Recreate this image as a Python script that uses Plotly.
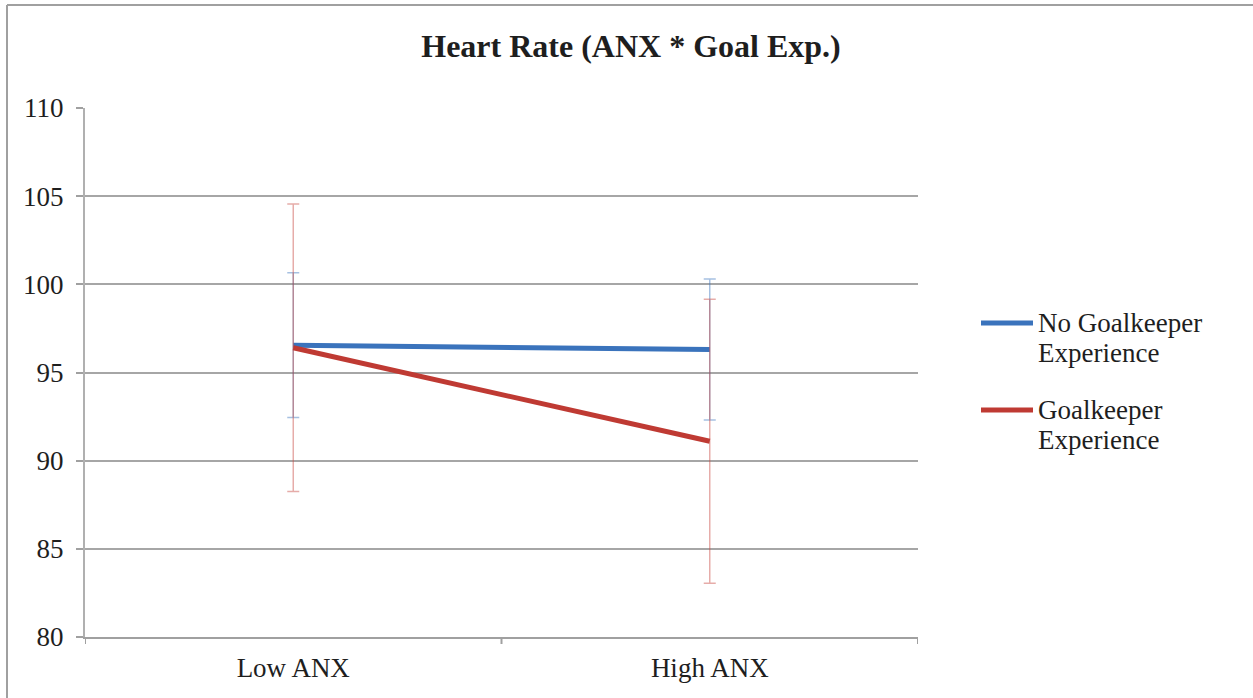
import plotly.graph_objects as go

# Group means and error margins
categories = ["Low ANX", "High ANX"]
no_gk_mean = [96.55, 96.3]
no_gk_err = [4.1, 4.0]
gk_mean = [96.4, 91.1]
gk_err = [8.15, 8.05]

series_labels = [["No Goalkeeper", "Experience"], ["Goalkeeper", "Experience"]]
y_ticks = [80, 85, 90, 95, 100, 105, 110]

BLUE = "#3A73BC"
RED = "#BF3A33"
FONT = "Liberation Serif, Times New Roman, serif"
TEXT = "#1E1E1E"

PLOT_L, PLOT_R, PLOT_T, PLOT_B = 85, 918, 108, 637
PW, PH = PLOT_R - PLOT_L, PLOT_B - PLOT_T


def px_x(x):
    return (x - PLOT_L) / PW


def px_y(y):
    return (PLOT_B - y) / PH


fig = go.Figure()

fig.add_trace(go.Scatter(
    x=[0, 1], y=no_gk_mean, mode="lines",
    line=dict(color=BLUE, width=5),
    error_y=dict(type="data", array=no_gk_err, visible=True,
                 color="rgba(58,115,188,0.45)", thickness=1.5, width=6),
    showlegend=False,
))
fig.add_trace(go.Scatter(
    x=[0, 1], y=gk_mean, mode="lines",
    line=dict(color=RED, width=5),
    error_y=dict(type="data", array=gk_err, visible=True,
                 color="rgba(200,70,65,0.45)", thickness=1.5, width=6),
    showlegend=False,
))

# Hand-built legend to the right of the plot
legend_y = [323, 410]
shapes = []
annotations = []
for lines, color, ly in zip(series_labels, [BLUE, RED], legend_y):
    shapes.append(dict(type="line", xref="paper", yref="paper",
                       x0=px_x(981), x1=px_x(1033),
                       y0=px_y(ly), y1=px_y(ly),
                       line=dict(color=color, width=5)))
    for i, txt in enumerate(lines):
        annotations.append(dict(text=txt, xref="paper", yref="paper",
                                x=px_x(1036), y=px_y(ly + 30 * i),
                                xanchor="left", yanchor="middle", align="left",
                                showarrow=False,
                                font=dict(family=FONT, size=27, color=TEXT)))

# Outer chart frame (left and top edges)
shapes.append(dict(type="line", xref="paper", yref="paper",
                   x0=px_x(7), x1=px_x(7), y0=px_y(720), y1=px_y(5),
                   line=dict(color="#A0A0A0", width=2)))
shapes.append(dict(type="line", xref="paper", yref="paper",
                   x0=px_x(7), x1=px_x(1260), y0=px_y(5), y1=px_y(5),
                   line=dict(color="#A0A0A0", width=2)))

# Category boundary ticks on the x axis
for xv in [-0.5, 0.5, 1.5]:
    shapes.append(dict(type="line", xref="x", yref="paper", x0=xv, x1=xv,
                       y0=0, y1=px_y(644), line=dict(color="#A0A0A0", width=2)))

fig.update_layout(
    width=1253, height=698,
    margin=dict(l=PLOT_L, r=1253 - PLOT_R, t=PLOT_T, b=698 - PLOT_B),
    paper_bgcolor="white", plot_bgcolor="white",
    title=dict(text="<b>Heart Rate (ANX * Goal Exp.)</b>",
               x=631 / 1253, xanchor="center", y=1 - 46 / 698, yanchor="middle",
               font=dict(family=FONT, size=32, color=TEXT)),
    font=dict(family=FONT, size=27, color=TEXT),
    shapes=shapes,
    annotations=annotations,
    xaxis=dict(range=[-0.5, 1.5], tickvals=[0, 1], ticktext=categories,
               showgrid=False, zeroline=False, automargin=False,
               showline=True, linecolor="#A0A0A0", linewidth=2,
               ticks="", ticklabelstandoff=6,
               tickfont=dict(family=FONT, size=27, color=TEXT)),
    yaxis=dict(range=[80, 110], tickvals=y_ticks, automargin=False,
               showgrid=True, gridcolor="#A6A6A6", gridwidth=1.5,
               zeroline=False, showline=True, linecolor="#B0B0B0", linewidth=2,
               ticks="outside", ticklen=7, tickcolor="#A0A0A0", tickwidth=1.5,
               ticklabelstandoff=7,
               tickfont=dict(family=FONT, size=27, color=TEXT)),
)

fig.write_html("out.html")
